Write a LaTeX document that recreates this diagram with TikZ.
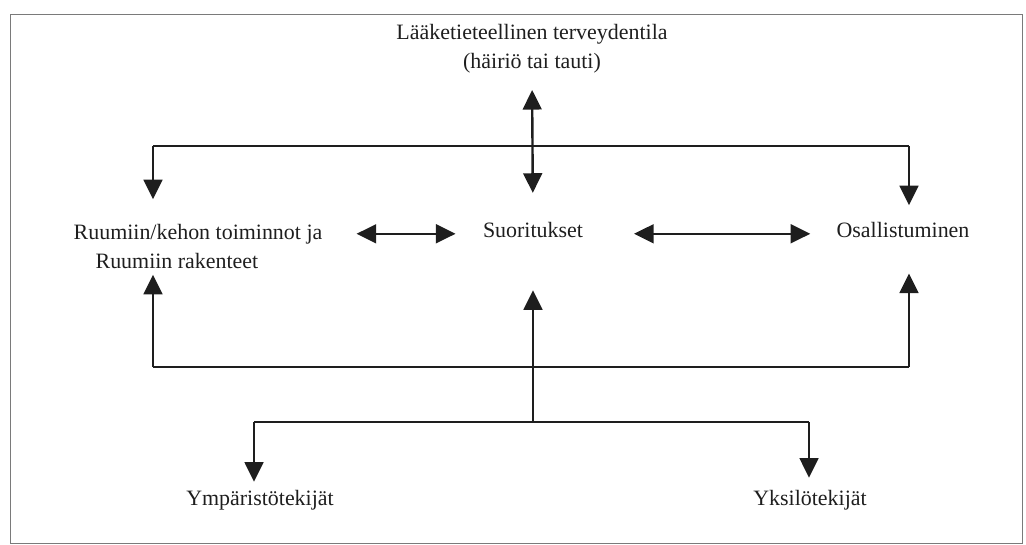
\documentclass[tikz,border=0pt]{standalone}
\usepackage{fontspec}
\setmainfont{Liberation Serif}
\usepackage{xcolor}
\usetikzlibrary{arrows.meta,calc,positioning}
\definecolor{IcfInk}{HTML}{1E1E1E}
\definecolor{IcfFrame}{HTML}{7A7A7A}

\begin{document}
\begin{tikzpicture}[x=0.025cm,y=-0.025cm,
    lbl/.style={inner sep=0pt,text=IcfInk,font=\fontsize{15.6}{20.4}\selectfont},
    one/.style={lbl,text height=11pt,text depth=3pt},
    arr/.style={IcfInk,line width=1.7pt,-{Triangle[length=0.49cm,width=0.47cm]}},
    dbl/.style={arr,{Triangle[length=0.49cm,width=0.47cm]}-{Triangle[length=0.49cm,width=0.47cm]}},
    wire/.style={IcfInk,line width=1.7pt}]
        \useasboundingbox (0,0) rectangle (1026,545);
        \draw[IcfFrame,line width=0.7pt] (10,14) rectangle (1022,543);

        % texts
        \node[lbl,align=center,anchor=north] (cond) at (532,24)
          {Lääketieteellinen terveydentila\\(häiriö tai tauti)};
        \node[lbl,align=left,anchor=north] (body) at (198,224)
          {Ruumiin/kehon toiminnot ja\\\hspace*{1.0em}Ruumiin rakenteet};
        \node[one,anchor=base] (suor) at (533,237) {Suoritukset};
        \node[one,anchor=base] (osal) at (903,237) {Osallistuminen};
        \node[one,anchor=base] (env) at (260,505) {Ympäristötekijät};
        \node[one,anchor=base] (indiv) at (810,505) {Yksilötekijät};

        % junctions
        \coordinate (jtop) at (533,146);
        \coordinate (ltop) at (153,146);
        \coordinate (rtop) at (909,146);
        \coordinate (jmid) at (533,367);
        \coordinate (lmid) at (153,367);
        \coordinate (rmid) at (909,367);
        \coordinate (jbot) at (533,422);
        \coordinate (lbot) at (254,422);
        \coordinate (rbot) at (809,422);

        % top row
        \draw[dbl,shorten <=0.42cm,shorten >=0.71cm] (cond.south) -- (suor.north);
        \draw[wire] (ltop) -- (rtop);
        \draw[arr,shorten >=0.62cm] (ltop) -- (ltop |- body.north);
        \draw[arr,shorten >=0.4cm] (rtop) -- (rtop |- osal.north);

        % middle row
        \draw[dbl,shorten <=0.85cm,shorten >=0.68cm] (body.east |- suor.mid) -- (suor.mid west);
        \draw[dbl,shorten <=1.27cm,shorten >=0.65cm] (suor.mid east) -- (osal.mid west);

        % lower row
        \draw[arr,shorten >=1.22cm] (jbot) -- (suor.south);
        \draw[wire] (lmid) -- (rmid);
        \draw[arr,shorten >=0.15cm] (lmid) -- (lmid |- body.south);
        \draw[arr,shorten >=0.8cm] (rmid) -- (rmid |- osal.south);

        % factors
        \draw[wire] (lbot) -- (rbot);
        \draw[arr,shorten >=0.19cm] (lbot) -- (env.north -| lbot);
        \draw[arr,shorten >=0.29cm] (rbot) -- (indiv.north -| rbot);
      \end{tikzpicture}
\end{document}
